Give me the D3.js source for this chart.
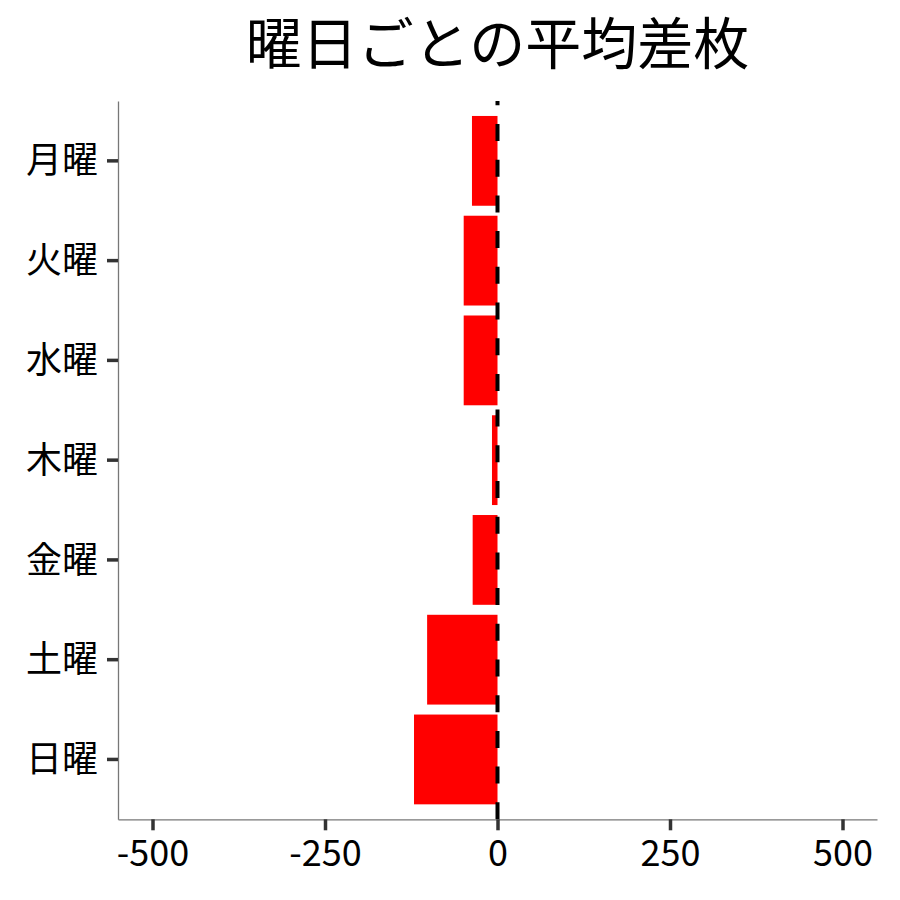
<!DOCTYPE html>
<html>
<head>
<meta charset="utf-8">
<script src="https://cdn.jsdelivr.net/npm/d3@7"></script>
<style>
  html, body { margin: 0; padding: 0; background: #fff; }
  svg { display: block; font-family: "Noto Sans CJK JP", "Noto Sans", sans-serif; }
</style>
</head>
<body>
<div id="chart"></div>
<script>
// days, top to bottom
const days = ["月曜", "火曜", "水曜", "木曜", "金曜", "土曜", "日曜"];
// average difference (差枚) per day
const avgDiff = [-37, -49, -49, -8, -36, -102, -121];
const xTicks = [-500, -250, 0, 250, 500];
const title = "曜日ごとの平均差枚";

const width = 900, height = 900;
const margin = { top: 101, right: 23, bottom: 80.7, left: 118 };

const svg = d3.select("#chart").append("svg")
  .attr("width", width)
  .attr("height", height)
  .attr("viewBox", [0, 0, width, height]);

const x = d3.scaleLinear()
  .domain([-550, 550])
  .range([margin.left, width - margin.right]);

const y = d3.scaleBand()
  .domain(days)
  .range([margin.top, height - margin.bottom])
  .paddingInner(0.1)
  .paddingOuter(0.15);

const data = days.map((d, i) => ({ day: d, value: avgDiff[i] }));

// bars
svg.append("g")
  .selectAll("rect")
  .data(data)
  .join("rect")
  .attr("x", d => x(Math.min(0, d.value)))
  .attr("width", d => Math.abs(x(d.value) - x(0)))
  .attr("y", d => y(d.day))
  .attr("height", y.bandwidth())
  .attr("fill", "#ff0000");

// zero reference line (drawn bottom to top like ggplot)
svg.append("line")
  .attr("x1", x(0)).attr("x2", x(0))
  .attr("y1", height - margin.bottom).attr("y2", margin.top)
  .attr("stroke", "#000")
  .attr("stroke-width", 4)
  .attr("stroke-dasharray", "17 18.7");

// axes (plain hyphen for negatives, like the original)
const xAxis = svg.append("g")
  .attr("transform", `translate(0,${height - margin.bottom})`)
  .call(d3.axisBottom(x).tickValues(xTicks).tickFormat(d => String(d))
    .tickSize(11).tickSizeOuter(0).tickPadding(10))
  .attr("font-family", null)
  .attr("font-size", 36);

const yAxis = svg.append("g")
  .attr("transform", `translate(${margin.left},0)`)
  .call(d3.axisLeft(y).tickSize(11).tickSizeOuter(0).tickPadding(9))
  .attr("font-family", null)
  .attr("font-size", 36);

[xAxis, yAxis].forEach(g => {
  g.select(".domain").attr("stroke", "#777").attr("stroke-width", 1.3);
  g.selectAll(".tick line").attr("stroke", "#333").attr("stroke-width", 3.5);
  g.selectAll(".tick text").attr("fill", "#000");
});
xAxis.selectAll(".tick text").attr("dy", "0.72em");
yAxis.selectAll(".tick text").attr("dy", "0.35em");

// title
svg.append("text")
  .attr("x", (margin.left + width - margin.right) / 2)
  .attr("y", 64)
  .attr("text-anchor", "middle")
  .attr("font-size", 56)
  .attr("fill", "#000")
  .text(title);
</script>
</body>
</html>
